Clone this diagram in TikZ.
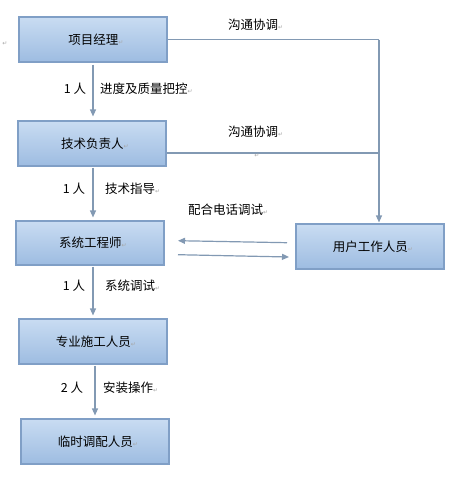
\documentclass[tikz,border=0pt]{standalone}
\usepackage{fontspec}
\setmainfont{Noto Sans CJK SC}
\newfontfamily\djv{DejaVu Sans}
\usetikzlibrary{arrows.meta,calc}
\definecolor{boxtop}{HTML}{C9DCF2}
\definecolor{boxbot}{HTML}{9DBCE1}
\definecolor{boxline}{HTML}{809FC6}
\definecolor{conn}{HTML}{8299B3}
\newcommand\pmk{{\djv\fontsize{6}{6}\selectfont\color{black!35}↵}}
\begin{document}
\begin{tikzpicture}[x=1pt,y=-1pt,
  box/.style={draw=boxline,line width=1.1pt,top color=boxtop,bottom color=boxbot,
    minimum width=148pt,minimum height=45pt,inner sep=0pt,font=\fontsize{12.5}{14}\selectfont},
  lbl/.style={inner sep=0pt,font=\fontsize{12.5}{14}\selectfont},
  conline/.style={draw=conn,line width=1.2pt},
  arr/.style={conline,-{Triangle[length=7pt,width=6pt]}}]
\useasboundingbox (0,0) rectangle (453,491);
% boxes
\node[box] (pm)   at (93,39.5)  {\hspace*{6pt}项目经理\pmk};
\node[box] (tl)   at (92,143.5) {\hspace*{6pt}技术负责人\pmk};
\node[box,minimum height=44pt] (se) at (90,243) {\hspace*{6pt}系统工程师\pmk};
\node[box] (user) at (370,246.5) {\hspace*{6pt}用户工作人员\pmk};
\node[box] (sp)   at (93,341.5) {\hspace*{6pt}专业施工人员\pmk};
\node[box] (tmp)  at (95,441.5) {\hspace*{6pt}临时调配人员\pmk};
% vertical arrows
\draw[arr,shorten <=2pt,shorten >=4pt] (pm.south) -- (pm.south |- tl.north);
\draw[arr,shorten <=1pt,shorten >=3pt] ($(tl.south)+(1,0)$) -- ($(tl.south |- se.north)+(1,0)$);
\draw[arr,shorten <=1pt,shorten >=3pt] (se.south -| sp.north) -- (sp.north);
\draw[arr,shorten <=1pt,shorten >=3pt] (sp.south -| tmp.north) -- (tmp.north);
% right connector
\coordinate (j1) at (379,39.5);
\coordinate (j2) at (379,153);
\draw[conline] (pm.east) -- (j1);
\draw[conline] (tl.east |- j2) -- (j2);
\draw[arr,shorten >=1pt] (j1) -- (j1 |- user.north);
% horizontal arrows
\coordinate (a1) at (287,242.7);
\coordinate (a2) at (178,240.7);
\coordinate (a3) at (178,254.7);
\coordinate (a4) at (289,257);
\draw[arr] (a1) -- (a2);
\draw[arr] (a3) -- (a4);
% labels
\node[lbl,anchor=west] (c1) at (228,25) {沟通协调\pmk};
\node[lbl,anchor=west] (c2) at (228,132) {沟通协调\pmk};
\node[lbl] (stray) at (257,156) {\pmk};
\node[lbl] (lm) at (5,44) {\pmk};
\node[lbl] (n1) at (75,89) {1 人};
\node[lbl,anchor=west] (t1) at (100,89) {进度及质量把控\pmk};
\node[lbl] (n2) at (74,189) {1 人};
\node[lbl,anchor=west] (t2) at (105,189) {技术指导\pmk};
\node[lbl,anchor=west] (t5) at (188,210) {配合电话调试\pmk};
\node[lbl] (n3) at (74,286) {1 人};
\node[lbl,anchor=west] (t3) at (105,286) {系统调试\pmk};
\node[lbl] (n4) at (72,388) {2 人};
\node[lbl,anchor=west] (t4) at (103,388) {安装操作\pmk};
\end{tikzpicture}
\end{document}
